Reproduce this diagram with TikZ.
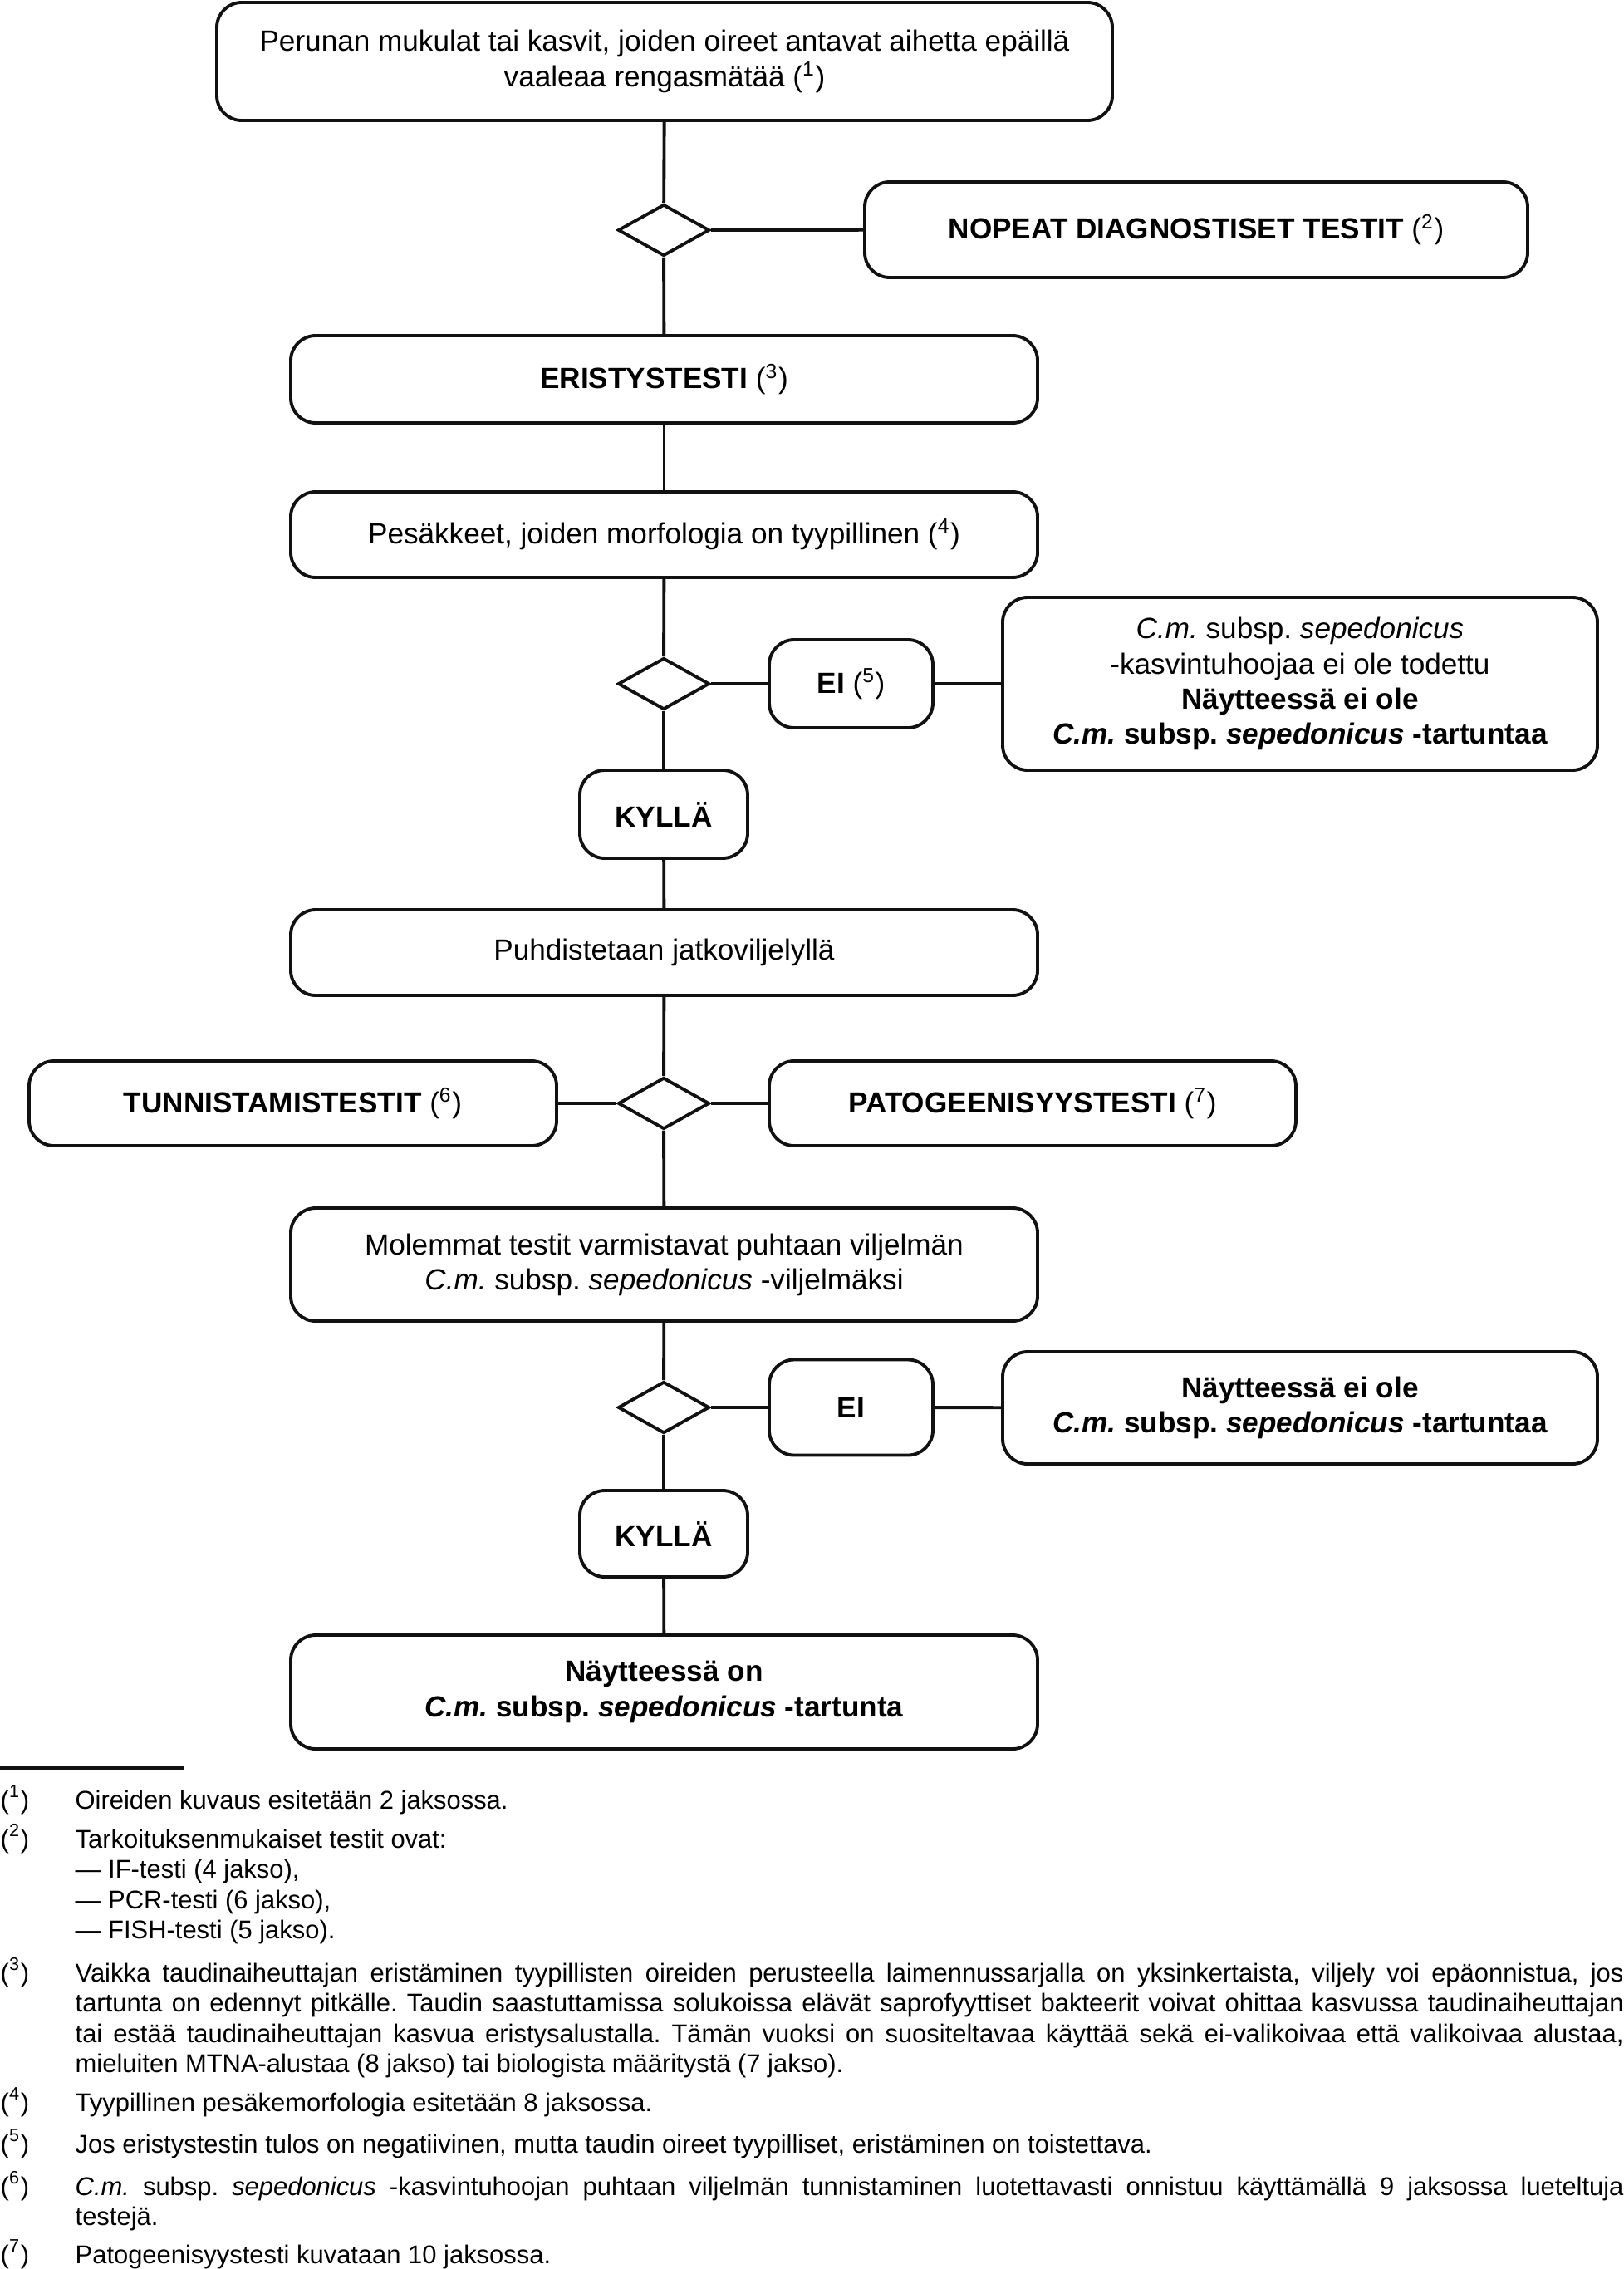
\documentclass[tikz,border=0pt]{standalone}
\usepackage{fontspec}
\setmainfont{Liberation Sans}
\usepackage{tikz}
\usetikzlibrary{shapes.geometric}
\definecolor{ink}{HTML}{111111}
\frenchspacing
\newcommand{\fnmark}[1]{(\textsuperscript{#1})}
\newcommand{\cms}{\textit{C.m.} subsp. \textit{sepedonicus}}
\newcommand{\fnitem}[2]{\noindent\hangindent=9mm\hangafter=1\hyphenpenalty=10000\makebox[9mm][l]{\fnmark{#1}}#2\par}
\tikzset{
  stepbox/.style={draw=ink, fill=white, line width=1.1pt, rounded corners=3mm, align=center,
    inner sep=0pt, font=\fontsize{10}{12}\selectfont},
  answerbox/.style={stepbox, font=\fontsize{10}{12}\selectfont\bfseries},
  decision/.style={diamond, draw=ink, fill=white, line width=1.1pt, inner sep=0pt,
    minimum width=1.1cm, minimum height=0.62cm},
  link/.style={draw=ink, line width=1.1pt},
  fnote/.style={anchor=north west, inner sep=0pt, text width=19.54cm, align=justify,
    font=\fontsize{8.8}{10.4}\selectfont},
}

\begin{document}
\begin{tikzpicture}
  \useasboundingbox (0,0) rectangle (19.54,-27.31);

  \node[stepbox, minimum width=10.78cm, minimum height=1.42cm] (start) at (8.00,-0.74)
    {Perunan mukulat tai kasvit, joiden oireet antavat aihetta epäillä\\vaaleaa rengasmätää \fnmark{1}};
  \node[decision] (d1) at (7.99,-2.77) {};
  \node[answerbox, minimum width=7.98cm, minimum height=1.15cm] (rapid) at (14.40,-2.765)
    {NOPEAT DIAGNOSTISET TESTIT \textmd{\fnmark{2}}};
  \node[answerbox, minimum width=8.99cm, minimum height=1.05cm] (isol) at (7.995,-4.565)
    {ERISTYSTESTI \textmd{\fnmark{3}}};
  \node[stepbox, minimum width=8.99cm, minimum height=1.03cm] (colony) at (7.995,-6.435)
    {Pesäkkeet, joiden morfologia on tyypillinen \fnmark{4}};

  % ensimmäinen haara
  \node[decision] (d2) at (7.99,-8.23) {};
  \node[answerbox, minimum width=1.97cm, minimum height=1.06cm] (no1) at (10.245,-8.23)
    {EI \textmd{\fnmark{5}}};
  \node[stepbox, minimum width=7.16cm, minimum height=2.08cm] (neg1) at (15.65,-8.23)
    {\cms\\-kasvintuhoojaa ei ole todettu\\\textbf{Näytteessä ei ole}\\\textbf{\cms{} -tartuntaa}};
  \node[answerbox, minimum width=2.02cm, minimum height=1.06cm] (yes1) at (7.99,-9.80) {KYLLÄ};
  \node[stepbox, minimum width=8.99cm, minimum height=1.03cm] (purify) at (7.995,-11.465)
    {Puhdistetaan jatkoviljelyllä};

  \node[decision] (d3) at (7.99,-13.28) {};
  \node[answerbox, minimum width=6.35cm, minimum height=1.02cm] (ident) at (3.525,-13.28)
    {TUNNISTAMISTESTIT \textmd{\fnmark{6}}};
  \node[answerbox, minimum width=6.34cm, minimum height=1.02cm] (patho) at (12.43,-13.28)
    {PATOGEENISYYSTESTI \textmd{\fnmark{7}}};
  \node[stepbox, minimum width=8.99cm, minimum height=1.36cm] (both) at (7.995,-15.22)
    {Molemmat testit varmistavat puhtaan viljelmän\\\cms{} -viljelmäksi};

  % toinen haara
  \node[decision] (d4) at (7.99,-16.94) {};
  \node[answerbox, minimum width=1.97cm, minimum height=1.15cm] (no2) at (10.245,-16.94) {EI};
  \node[stepbox, minimum width=7.16cm, minimum height=1.35cm] (neg2) at (15.65,-16.945)
    {\textbf{Näytteessä ei ole}\\\textbf{\cms{} -tartuntaa}};
  \node[answerbox, minimum width=2.02cm, minimum height=1.04cm] (yes2) at (7.99,-18.46) {KYLLÄ};
  \node[stepbox, minimum width=8.99cm, minimum height=1.37cm] (pos) at (7.995,-20.365)
    {\textbf{Näytteessä on}\\\textbf{\cms{} -tartunta}};

  \draw[link] (start) -- (d1);
  \draw[link] (d1) -- (rapid);
  \draw[link] (d1) -- (isol);
  \draw[link] (isol) -- (colony);
  \draw[link] (colony) -- (d2);
  \draw[link] (d2) -- (no1);
  \draw[link] (no1) -- (neg1);
  \draw[link] (d2) -- (yes1);
  \draw[link] (yes1) -- (purify);
  \draw[link] (purify) -- (d3);
  \draw[link] (d3) -- (ident);
  \draw[link] (d3) -- (patho);
  \draw[link] (d3) -- (both);
  \draw[link] (both) -- (d4);
  \draw[link] (d4) -- (no2);
  \draw[link] (no2) -- (neg2);
  \draw[link] (d4) -- (yes2);
  \draw[link] (yes2) -- (pos);

  % alaviitteet
  \draw[ink, line width=0.9pt] (0,-21.28) -- (2.21,-21.28);
  \node[fnote] (fn1) at (0,-21.48) {\fnitem{1}{Oireiden kuvaus esitetään 2 jaksossa.}};
  \node[fnote] (fn2) at (0,-21.95) {\fnitem{2}{Tarkoituksenmukaiset testit ovat:\newline --- IF-testi (4 jakso),\newline --- PCR-testi (6 jakso),\newline --- FISH-testi (5 jakso).}};
  \node[fnote] (fn3) at (0,-23.56) {\fnitem{3}{Vaikka taudinaiheuttajan eristäminen tyypillisten oireiden perusteella laimennussarjalla on yksinkertaista, viljely voi epäonnistua, jos\linebreak{} tartunta on edennyt pitkälle. Taudin saastuttamissa solukoissa elävät saprofyyttiset bakteerit voivat ohittaa kasvussa taudinaiheuttajan\linebreak{} tai estää taudinaiheuttajan kasvua eristysalustalla. Tämän vuoksi on suositeltavaa käyttää sekä ei-valikoivaa että valikoivaa alustaa,\linebreak{} mieluiten MTNA-alustaa (8 jakso) tai biologista määritystä (7 jakso).}};
  \node[fnote] (fn4) at (0,-25.12) {\fnitem{4}{Tyypillinen pesäkemorfologia esitetään 8 jaksossa.}};
  \node[fnote] (fn5) at (0,-25.62) {\fnitem{5}{Jos eristystestin tulos on negatiivinen, mutta taudin oireet tyypilliset, eristäminen on toistettava.}};
  \node[fnote] (fn6) at (0,-26.13) {\fnitem{6}{\cms{} -kasvintuhoojan puhtaan viljelmän tunnistaminen luotettavasti onnistuu käyttämällä 9 jaksossa lueteltuja\linebreak{} testejä.}};
  \node[fnote] (fn7) at (0,-26.95) {\fnitem{7}{Patogeenisyystesti kuvataan 10 jaksossa.}};
\end{tikzpicture}
\end{document}
